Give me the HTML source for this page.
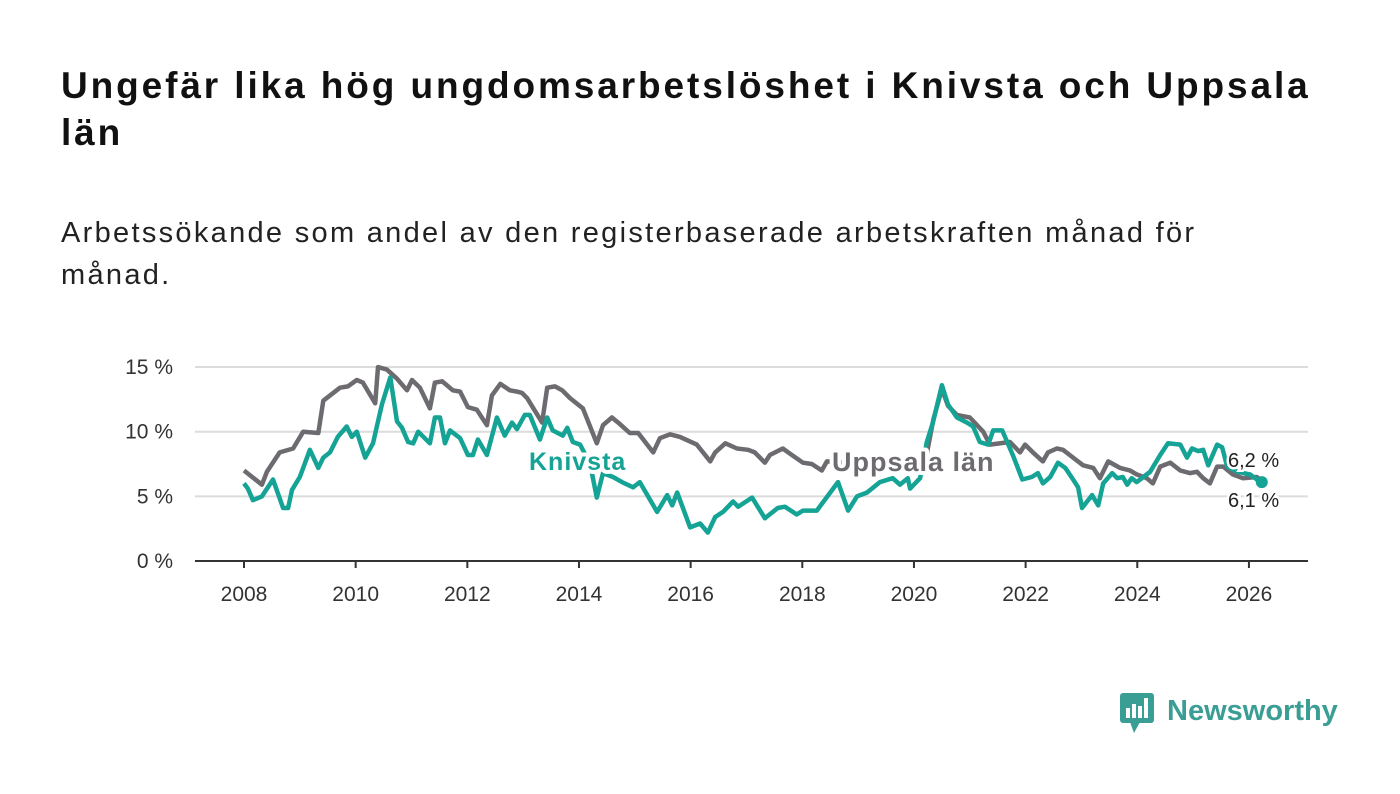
<!DOCTYPE html>
<html><head><meta charset="utf-8"><style>
body{margin:0;width:1400px;height:794px;background:#fff;font-family:"Liberation Sans",sans-serif;overflow:hidden;position:relative}
h1{position:absolute;left:61px;top:62px;margin:0;font-size:37px;line-height:47px;font-weight:bold;color:#111;width:1290px;letter-spacing:2.9px}
p{position:absolute;left:61px;top:212px;margin:0;font-size:29px;line-height:42px;color:#222;width:1200px;letter-spacing:2.3px}
svg{position:absolute;left:0;top:0}
</style></head><body>
<h1>Ungefär lika hög ungdomsarbetslöshet i Knivsta och Uppsala län</h1>
<p>Arbetssökande som andel av den registerbaserade arbetskraften månad för månad.</p>
<svg id="chart" width="1400" height="794"></svg>
<svg width="1400" height="794" style="pointer-events:none">
<rect x="1120" y="693" width="34" height="30" rx="3" fill="#3a9e94"/>
<polygon points="1130,722 1140,722 1134,733" fill="#3a9e94"/>
<rect x="1126" y="708" width="4" height="10" fill="#fff"/><rect x="1132" y="704" width="4" height="14" fill="#fff"/><rect x="1138" y="706" width="4" height="12" fill="#fff"/><rect x="1144" y="698" width="4" height="20" fill="#fff"/>
<text x="1167" y="720" font-size="29" font-weight="bold" fill="#3a9e94" font-family="Liberation Sans, sans-serif">Newsworthy</text>
</svg>
<script>
const yTicks=[0,5,10,15];
const xTicks=[2008,2010,2012,2014,2016,2018,2020,2022,2024,2026];
const grayYears=[2008.0,2008.32,2008.41,2008.64,2008.88,2009.06,2009.33,2009.42,2009.72,2009.86,2010.02,2010.13,2010.35,2010.40,2010.56,2010.74,2010.92,2011.01,2011.15,2011.33,2011.42,2011.55,2011.74,2011.87,2012.01,2012.17,2012.35,2012.44,2012.59,2012.76,2012.89,2012.98,2013.07,2013.34,2013.43,2013.57,2013.70,2013.84,2014.07,2014.32,2014.43,2014.59,2014.73,2014.91,2015.06,2015.33,2015.45,2015.63,2015.81,2016.11,2016.35,2016.44,2016.62,2016.83,2017.03,2017.15,2017.33,2017.42,2017.65,2017.78,2018.01,2018.17,2018.35,2018.44,2018.8,2019.2,2019.6,2020.0,2020.2,2020.35,2020.50,2020.61,2020.77,2021.00,2021.24,2021.36,2021.72,2021.90,2021.99,2022.13,2022.31,2022.40,2022.56,2022.67,2022.85,2023.03,2023.21,2023.33,2023.48,2023.69,2023.87,2023.99,2024.17,2024.28,2024.41,2024.59,2024.77,2024.94,2025.07,2025.18,2025.30,2025.43,2025.54,2025.71,2025.89,2026.14,2026.23];
const grayVals=[7.0,5.9,6.9,8.4,8.7,10.0,9.9,12.4,13.4,13.5,14.0,13.8,12.2,15.0,14.8,14.1,13.2,14.0,13.4,11.8,13.8,13.9,13.2,13.1,11.9,11.7,10.5,12.8,13.7,13.2,13.1,13.0,12.6,10.7,13.4,13.5,13.2,12.6,11.8,9.1,10.5,11.1,10.6,9.9,9.9,8.4,9.5,9.8,9.6,9.0,7.7,8.4,9.1,8.7,8.6,8.4,7.6,8.2,8.7,8.3,7.6,7.5,7.0,7.7,7.6,7.6,7.5,7.4,7.6,11.0,13.3,12.0,11.3,11.1,10.0,9.0,9.2,8.4,9.0,8.4,7.7,8.4,8.7,8.6,8.0,7.4,7.2,6.4,7.7,7.2,7.0,6.7,6.4,6.0,7.3,7.6,7.0,6.8,6.9,6.4,6.0,7.3,7.3,6.7,6.4,6.5,6.2];
const tealYears=[2008.0,2008.07,2008.16,2008.32,2008.52,2008.70,2008.79,2008.86,2009.00,2009.18,2009.33,2009.42,2009.54,2009.68,2009.84,2009.93,2010.02,2010.17,2010.31,2010.47,2010.62,2010.74,2010.83,2010.94,2011.03,2011.12,2011.33,2011.42,2011.51,2011.60,2011.69,2011.87,2012.01,2012.10,2012.19,2012.35,2012.53,2012.67,2012.80,2012.89,2013.03,2013.12,2013.30,2013.43,2013.53,2013.71,2013.79,2013.89,2014.02,2014.20,2014.32,2014.43,2014.61,2014.77,2014.97,2015.09,2015.40,2015.58,2015.67,2015.76,2015.99,2016.17,2016.31,2016.44,2016.58,2016.76,2016.85,2017.10,2017.33,2017.56,2017.69,2017.90,2018.01,2018.26,2018.64,2018.82,2018.98,2019.16,2019.39,2019.62,2019.75,2019.89,2019.93,2020.11,2020.23,2020.34,2020.50,2020.61,2020.77,2020.95,2021.06,2021.18,2021.33,2021.42,2021.58,2021.77,2021.94,2022.11,2022.22,2022.31,2022.44,2022.58,2022.71,2022.85,2022.94,2023.01,2023.19,2023.30,2023.39,2023.55,2023.64,2023.74,2023.82,2023.90,2023.99,2024.23,2024.41,2024.55,2024.77,2024.89,2024.98,2025.09,2025.18,2025.27,2025.43,2025.52,2025.61,2025.79,2026.02,2026.14,2026.23];
const tealVals=[6.0,5.6,4.7,5.0,6.3,4.1,4.1,5.5,6.5,8.6,7.2,8.0,8.4,9.6,10.4,9.6,10.0,8.0,9.1,12.1,14.2,10.8,10.3,9.2,9.1,10.0,9.1,11.1,11.1,9.1,10.1,9.5,8.2,8.2,9.4,8.2,11.1,9.7,10.7,10.2,11.3,11.3,9.4,11.1,10.1,9.7,10.3,9.2,9.0,7.5,4.9,6.8,6.5,6.1,5.7,6.1,3.8,5.1,4.3,5.3,2.6,2.9,2.2,3.4,3.8,4.6,4.2,4.9,3.3,4.1,4.2,3.6,3.9,3.9,6.1,3.9,5.0,5.3,6.1,6.4,5.9,6.4,5.6,6.4,9.2,10.7,13.6,12.1,11.1,10.7,10.4,9.2,9.0,10.1,10.1,8.2,6.3,6.5,6.8,6.0,6.5,7.6,7.2,6.3,5.7,4.1,5.1,4.3,6.0,6.8,6.4,6.5,5.9,6.4,6.1,6.9,8.2,9.1,9.0,8.0,8.7,8.5,8.6,7.4,9.0,8.8,7.3,6.9,6.7,6.3,6.1];
const NS="http://www.w3.org/2000/svg";
const svg=document.getElementById('chart');
const X0=195,X1=1308;
const xs=y=>244+(y-2008)*55.83;
const ys=v=>561-v*12.93;
function mk(tag,attrs){const e=document.createElementNS(NS,tag);for(const k in attrs)e.setAttribute(k,attrs[k]);svg.appendChild(e);return e;}
const F='"Liberation Sans", sans-serif';
yTicks.forEach(v=>{
  if(v>0){const g=mk('line',{x1:X0,x2:X1,y1:ys(v),y2:ys(v),stroke:'#dcdcdc','stroke-width':2});
  
  }
  const t=mk('text',{x:173,y:ys(v)+7,'text-anchor':'end','font-size':21,fill:'#333','font-family':F});
  t.textContent=v+' %';
  
  
});
const ax=mk('line',{x1:X0,x2:X1,y1:561,y2:561,stroke:'#333','stroke-width':2});


xTicks.forEach(yr=>{
  const tk=mk('line',{x1:xs(yr),x2:xs(yr),y1:561,y2:568,stroke:'#333','stroke-width':2});
  
  
  const t=mk('text',{x:xs(yr),y:601,'text-anchor':'middle','font-size':21,fill:'#333','font-family':F});
  t.textContent=yr;
  
  
});
function path(yrs,vals){return yrs.map((y,i)=>(i?'L':'M')+xs(y).toFixed(1)+','+ys(vals[i]).toFixed(1)).join(' ');}
const gl=mk('path',{d:path(grayYears,grayVals),fill:'none',stroke:'#6d6b70','stroke-width':4.5,'stroke-linejoin':'round'});


const tl=mk('path',{d:path(tealYears,tealVals),fill:'none',stroke:'#14a394','stroke-width':4.5,'stroke-linejoin':'round'});


const dot=mk('circle',{cx:xs(tealYears[tealYears.length-1]),cy:ys(tealVals[tealVals.length-1]),r:6,fill:'#14a394'});


const halo={stroke:'#fff','stroke-width':8,'paint-order':'stroke','stroke-linejoin':'round','font-weight':'bold','font-family':F};
const k=mk('text',Object.assign({x:529,y:470,'font-size':25,fill:'#14a394','letter-spacing':1},halo));
k.textContent='Knivsta';


const u=mk('text',Object.assign({x:832,y:471,'font-size':27,fill:'#6d6b70','letter-spacing':1},halo));
u.textContent='Uppsala län';


const h2={stroke:'#fff','stroke-width':5,'paint-order':'stroke','font-family':F,'font-size':20,fill:'#222'};
const l1=mk('text',Object.assign({x:1228,y:467},h2));
l1.textContent='6,2 %';


const l2=mk('text',Object.assign({x:1228,y:507},h2));
l2.textContent='6,1 %';


</script>
</body></html>
